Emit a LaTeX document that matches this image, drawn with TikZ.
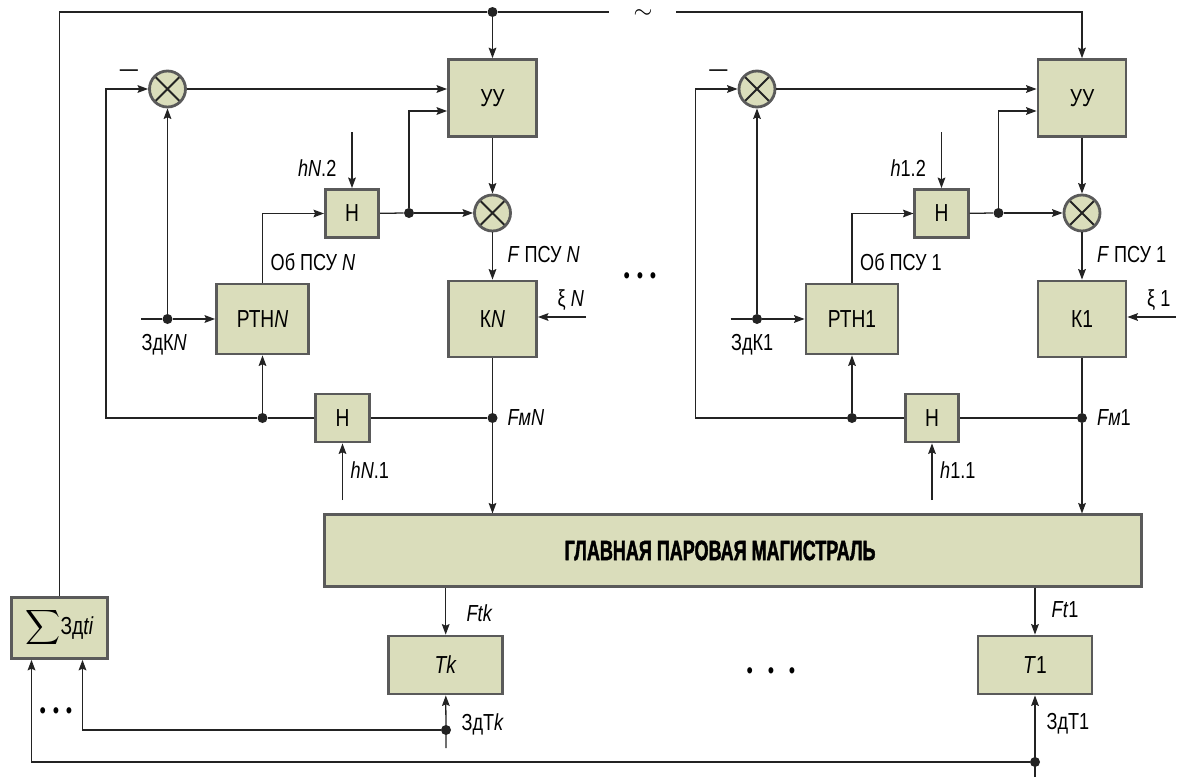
\documentclass[tikz,border=0pt]{standalone}
\usepackage{amsmath}
\usepackage{fontspec}
\setmainfont{Liberation Sans}[FakeStretch=0.78]
\newfontfamily\headfont{Liberation Sans}[FakeStretch=0.64, FakeBold=1.5]
\usepackage{tikz}
\usetikzlibrary{arrows.meta,positioning,calc}
\definecolor{boxfill}{RGB}{218,221,187}
\definecolor{boxline}{RGB}{90,90,90}
\definecolor{wireline}{RGB}{35,35,35}

\begin{document}
\begin{tikzpicture}[
    x=0.025cm, y=-0.025cm,
    font=\fontsize{16.5}{19}\selectfont,
    block/.style={draw=boxline, line width=2pt, fill=boxfill, inner sep=0pt, align=center, font=\fontsize{17.5}{20}\selectfont},
    mixer/.style={circle, draw=boxline, line width=2pt, fill=boxfill, minimum size=0.9cm, inner sep=0pt,
        path picture={\draw[wireline, line width=1.4pt] (path picture bounding box.north west) -- (path picture bounding box.south east) (path picture bounding box.north east) -- (path picture bounding box.south west);}},
    wire/.style={draw=wireline, line width=0.9pt},
    arrow/.style={wire, -{Stealth[length=7.5pt, width=5.5pt, inset=1.2pt]}},
    junction/.style={circle, fill=wireline, inner sep=0pt, minimum size=0.25cm},
    tag/.style={inner sep=1pt}
]
\useasboundingbox (0,0) rectangle (1180,778);

% main steam line and turbines
\node[block, minimum width=20.4cm, minimum height=1.78cm, font={\headfont\bfseries\fontsize{20}{22}\selectfont}] (trunk) at (733,550.5) {ГЛАВНАЯ ПАРОВАЯ МАГИСТРАЛЬ\hspace*{0.65cm}};
\node[block, minimum width=2.38cm, minimum height=1.52cm] (sigma) at (59.5,628) {$\displaystyle\sum$Зд\textit{ti}};
\node[block, minimum width=2.85cm, minimum height=1.45cm] (tk) at (445.7,665) {\textit{Tk}};
\node[block, minimum width=2.85cm, minimum height=1.45cm] (t1) at (1035,665) {\textit{T}1};

% boiler modules N and 1
\foreach \dx/\id/\sfx in {0/N/{\textit{N}}, 589.5/1/1} {
  \begin{scope}[shift={(\dx,0)}]
    \node[block, minimum width=2.2cm, minimum height=1.92cm] (uu\id) at (492.5,98) {УУ};
    \node[mixer] (ma\id) at (167.5,89) {};
    \node[tag] (minus\id) at (129,73) {—};
    \node[mixer] (mb\id) at (492.5,213) {};
    \node[block, minimum width=1.33cm, minimum height=1.2cm] (hb\id) at (352,213.5) {Н};
    \node[block, minimum width=2.3cm, minimum height=1.75cm] (rtn\id) at (262.5,319) {РТН\sfx};
    \node[block, minimum width=2.2cm, minimum height=1.9cm] (kk\id) at (492.5,319) {К\sfx};
    \node[block, minimum width=1.33cm, minimum height=1.2cm] (ha\id) at (342.5,418) {Н};
    \node[junction] (jh\id) at (409,213) {};
    \node[junction] (jz\id) at (167.5,319) {};
    \node[junction] (jr\id) at (262.5,418) {};
    \node[junction] (jf\id) at (492.5,418) {};
    \coordinate (zin\id) at (141,319);
    \coordinate (h2in\id) at (352,132);
    \coordinate (h1in\id) at (342.5,500);
    \coordinate (xin\id) at (586,317);
    \coordinate (fb\id) at (106,418);
    % labels
    \node[tag, anchor=east] (lh2\id) at (338,168) {\textit{h}\sfx.2};
    \node[tag, anchor=west] (lob\id) at (269,262) {Об ПСУ \sfx};
    \node[tag, anchor=west] (lf\id) at (506,255) {\textit{F} ПСУ \sfx};
    \node[tag, anchor=west] (lzd\id) at (140,345) {ЗдК\sfx};
    \node[tag, anchor=west] (lxi\id) at (556,300) {ξ \sfx};
    \node[tag, anchor=west] (lfm\id) at (506,418) {\textit{Fм}\sfx};
    \node[tag, anchor=west] (lh1\id) at (349,470) {\textit{h}\sfx.1};
    % connectors
    \draw[arrow] (ma\id) -- (ma\id -| uu\id.west);
    \draw[arrow] (jh\id) |- ($(uu\id.west)+(0,13)$);
    \draw[arrow] (uu\id) -- (mb\id);
    \draw[arrow] (mb\id) -- (kk\id);
    \draw[arrow] (h2in\id) -- (hb\id);
    \draw[wire] (hb\id) -- (jh\id);
    \draw[arrow] (jh\id) -- (mb\id);
    \draw[arrow] (rtn\id.north) |- (hb\id.west);
    \draw[wire] (zin\id) -- (jz\id);
    \draw[arrow] (jz\id) -- (rtn\id);
    \draw[arrow] (jz\id) -- (ma\id);
    \draw[arrow] (jr\id) -- (rtn\id);
    \draw[arrow] (xin\id) -- (xin\id -| kk\id.east);
    \draw[wire] (kk\id) -- (jf\id) -- (ha\id);
    \draw[arrow] (ha\id) -- (jr\id) -- (fb\id) |- (ma\id.west);
    \draw[arrow] (h1in\id) -- (ha\id);
    \draw[arrow] (jf\id) -- (jf\id |- trunk.north);
  \end{scope}
}

% common load signal
\node[junction] (jtop) at (492.5,12) {};
\coordinate (gapl) at (609,12);
\coordinate (gapr) at (676,12);
\node[inner sep=0pt, font=\fontsize{19}{19}\selectfont] (tilde) at (643,14) {$\sim$};
\draw[wire] (sigma) |- (jtop) -- (gapl);
\draw[arrow] (jtop) -- (uuN);
\draw[arrow] (gapr) -| (uu1);

% turbines
\draw[arrow] (tk.north |- trunk.south) -- (tk);
\draw[arrow] (t1.north |- trunk.south) -- (t1);
\node[tag, anchor=west] (lftk) at (465,613) {\textit{Ftk}};
\node[tag, anchor=west] (lft1) at (1050,610) {\textit{Ft}1};
\coordinate (zdk) at (446,748);
\node[junction] (jk) at (446,730) {};
\coordinate (zd1) at (1035,777);
\node[junction] (j1) at (1035,762) {};
\draw[arrow] (zdk) -- (tk);
\draw[arrow] (zd1) -- (t1);
\draw[arrow] (jk) -| ($(sigma.south)+(23,0)$);
\draw[arrow] (j1) -| ($(sigma.south)+(-28,0)$);
\node[tag, anchor=west] (lzdk) at (460,724) {ЗдТ\textit{k}};
\node[tag, anchor=west] (lzd1) at (1045,724) {ЗдТ1};

% ellipses
\node (dotsa) at (56,713) {\textbullet\hspace{0.17cm}\textbullet\hspace{0.17cm}\textbullet};
\node (dotsb) at (640,278) {\textbullet\hspace{0.17cm}\textbullet\hspace{0.17cm}\textbullet};
\node (dotsc) at (771,673) {\textbullet\hspace{0.37cm}\textbullet\hspace{0.37cm}\textbullet};

\end{tikzpicture}
\end{document}
